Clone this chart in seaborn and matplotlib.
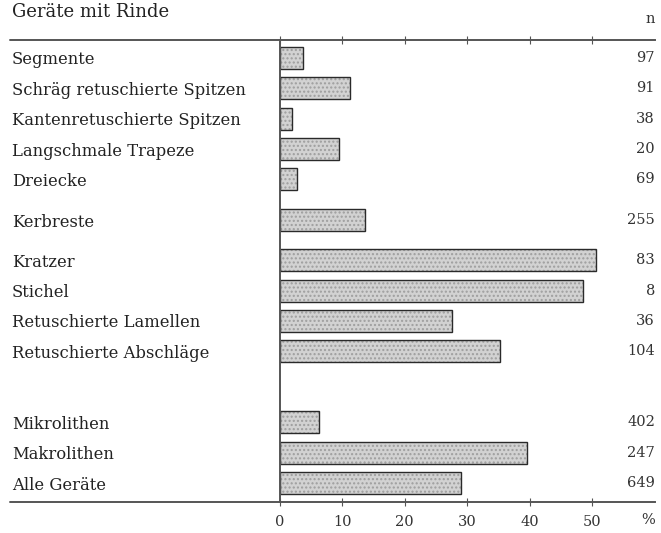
import matplotlib
matplotlib.use("Agg")
import matplotlib.pyplot as plt
import matplotlib.transforms as mtransforms
import numpy as np
import pandas as pd
import seaborn as sns

# ---- data ----
labels = ["Segmente", "Schräg retuschierte Spitzen", "Kantenretuschierte Spitzen",
          "Langschmale Trapeze", "Dreiecke", "Kerbreste",
          "Kratzer", "Stichel", "Retuschierte Lamellen", "Retuschierte Abschläge",
          "Mikrolithen", "Makrolithen", "Alle Geräte"]
percent = [3.7, 11.2, 1.9, 9.5, 2.7, 13.6, 50.6, 48.5, 27.6, 35.3, 6.2, 39.6, 29.0]
counts = [97, 91, 38, 20, 69, 255, 83, 8, 36, 104, 402, 247, 649]
group = [1, 1, 1, 1, 1, 2, 3, 3, 3, 3, 4, 4, 4]
xticks = [0, 10, 20, 30, 40, 50]

# row positions with extra space between groups
gap_after = {1: 0.34, 2: 0.32, 3: 1.34}
pos = []
p = 0.0
for i, g in enumerate(group):
    if i > 0 and group[i - 1] != g:
        p += gap_after[group[i - 1]]
    pos.append(p)
    p += 1.0

df = pd.DataFrame({"label": labels, "pct": percent, "n": counts, "pos": pos})

sns.set_style("white")
plt.rcParams["font.family"] = ["DejaVu Serif"]

fig = plt.figure(figsize=(6.61, 5.33), dpi=100)
ax = fig.add_axes([280 / 661, 1 - 502 / 533, 375 / 661, 462 / 533])

sns.barplot(data=df, x="pct", y="pos", orient="y", native_scale=True,
            width=0.72, color="#d2d2d2", edgecolor="#2a2a2a", linewidth=1.0,
            saturation=1, ax=ax)
for bar in ax.patches:
    bar.set_hatch("....")
    bar._hatch_color = (0.62, 0.62, 0.62, 1.0)

ax.set_xlim(0, 375 / 6.24)
ax.set_ylim(pos[-1] + 0.62, -0.59)
ax.set_xlabel("")
ax.set_ylabel("")

# y labels, left aligned at the far left
ax.set_yticks(pos)
ax.set_yticklabels(labels, ha="left", fontsize=11.8, color="#222")
ax.tick_params(axis="y", length=0, pad=268 * 0.72)

# x ticks on both horizontal rules
ax.set_xticks(xticks)
ax.set_xticklabels([str(t) for t in xticks], fontsize=10.5, color="#333")
ax.tick_params(axis="x", direction="inout", length=6, width=0.8, color="#555",
               top=True, bottom=True, labeltop=False, pad=6)

for side in ["top", "bottom", "left"]:
    ax.spines[side].set_color("#555")
    ax.spines[side].set_linewidth(1.4)
ax.spines["right"].set_visible(False)

# extend horizontal rules to the left edge
for yy in [0, 1]:
    ax.plot([-270 / 375, 0], [yy, yy], transform=ax.transAxes, color="#555",
            lw=1.4, clip_on=False)

# counts on the right
trans = mtransforms.blended_transform_factory(ax.transAxes, ax.transData)
for yv, n in zip(pos, counts):
    ax.text(1.0, yv, str(n), transform=trans, ha="right", va="center",
            fontsize=10.5, color="#333")
ax.text(1.0, 1.045, "n", transform=ax.transAxes, ha="right", va="center",
        fontsize=10.5, color="#333")
ax.text(1.0, -0.038, "%", transform=ax.transAxes, ha="right", va="center",
        fontsize=10.5, color="#333")

# title at the top edge
fig.text(12 / 661, 1 - 17 / 533, "Geräte mit Rinde", ha="left", va="baseline",
         fontsize=13, color="#222")

fig.savefig("out.png", dpi=100)
